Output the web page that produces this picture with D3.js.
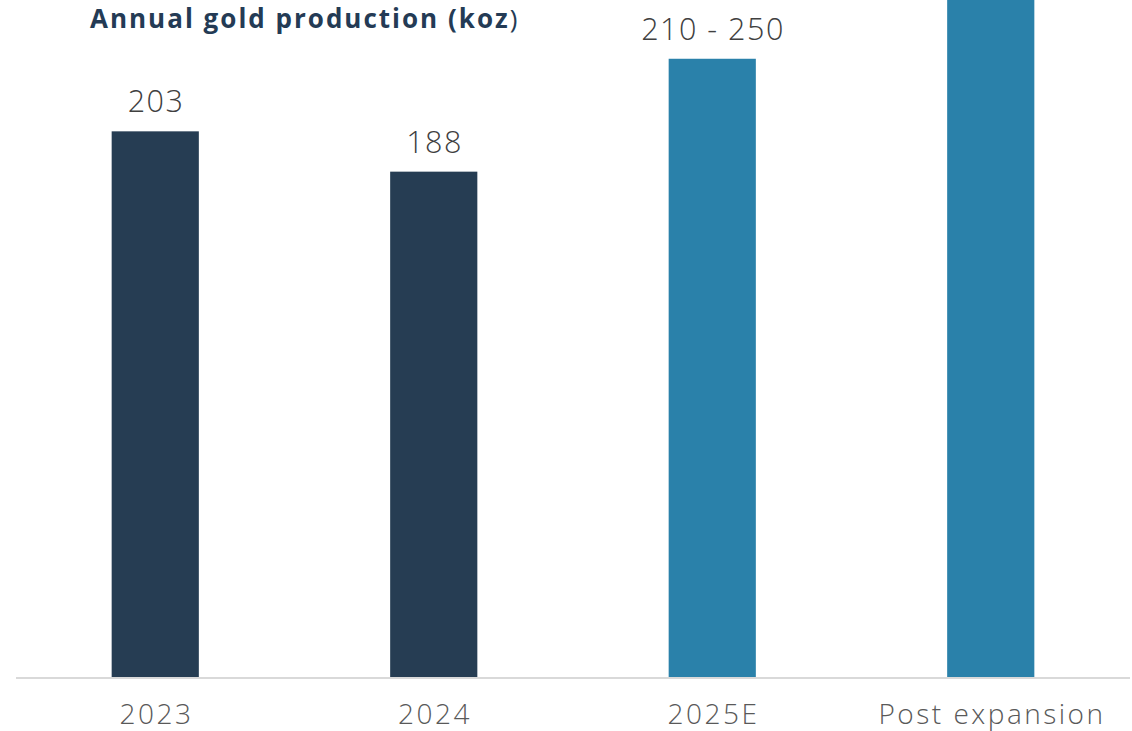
<!DOCTYPE html>
<html><head><meta charset="utf-8">
<script src="https://cdn.jsdelivr.net/npm/d3@7"></script>
<style>html,body{margin:0;padding:0;background:#fff;overflow:hidden}</style>
</head><body>
<svg id="c" width="1132" height="731"></svg>
<script>
const categories = ["2023", "2024", "2025E", "Post expansion"];
const values = [203, 188, 230, 300];
const valueLabels = ["203", "188", "210 - 250", ""];
const barColors = ["#263d53", "#263d53", "#2a81aa", "#2a81aa"];

const svg = d3.select("#c");
const W = 1132, H = 731;
const x = d3.scaleBand().domain(categories).range([16, 1130]).paddingInner(0.687).paddingOuter(0.3435);
const y = d3.scaleLinear().domain([0, 250]).range([677, 5]);

svg.append("defs").append("clipPath").attr("id","clip")
  .append("rect").attr("x",0).attr("y",0).attr("width",W).attr("height",H);

svg.append("g").attr("clip-path","url(#clip)")
  .selectAll("rect").data(categories).join("rect")
  .attr("x", d => x(d))
  .attr("width", x.bandwidth())
  .attr("y", (d,i) => y(values[i]))
  .attr("height", (d,i) => y(0) - y(values[i]))
  .attr("fill", (d,i) => barColors[i]);

const axis = d3.axisBottom(x).tickSize(0).tickPadding(27);
const ag = svg.append("g").attr("transform", `translate(0,${y(0)})`).call(axis);
ag.select(".domain").attr("stroke", "#d9d9d9").attr("stroke-width", 2).attr("d", "M16,1H1130");
ag.selectAll("text").attr("font-family", "'Open Sans', sans-serif").attr("font-weight", 300)
  .attr("font-size", 28).attr("fill", "#595959").attr("letter-spacing", 2.5)
  .attr("dx", 1.25);

svg.append("g").selectAll("text").data(categories).join("text")
  .attr("x", d => x(d) + x.bandwidth()/2 + 0.75)
  .attr("y", (d,i) => y(values[i]) - 19)
  .attr("text-anchor", "middle")
  .attr("font-family", "'Open Sans', sans-serif").attr("font-weight", 300)
  .attr("font-size", 30.5).attr("fill", "#404040").attr("letter-spacing", 1.5)
  .text((d,i) => valueLabels[i]);

const t = svg.append("text").attr("x", 90).attr("y", 28)
  .attr("font-family", "'Open Sans', sans-serif").attr("font-size", 26).attr("fill", "#243b55")
  .attr("letter-spacing", 2);
t.append("tspan").attr("font-weight", 700).text("Annual gold production (koz");
t.append("tspan").attr("font-weight", 400).text(")");
</script>
</body></html>
